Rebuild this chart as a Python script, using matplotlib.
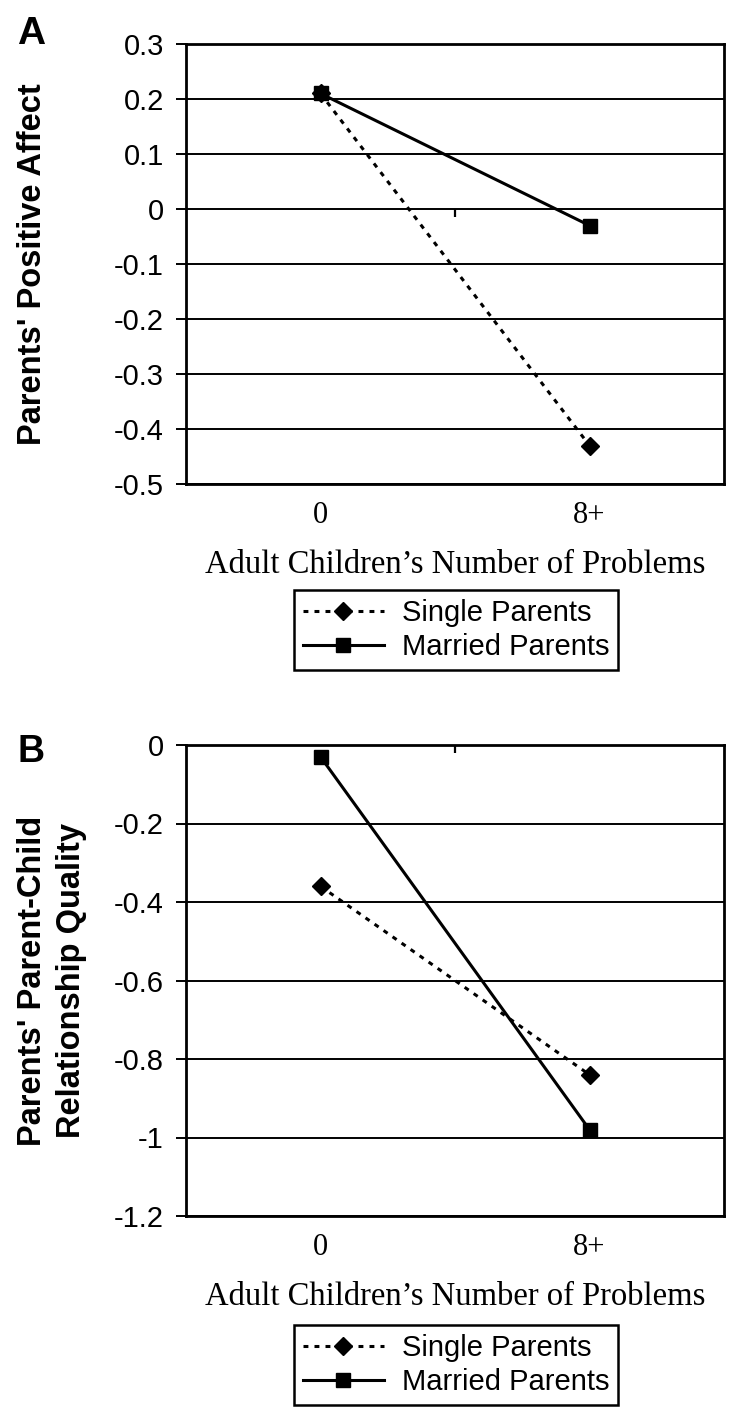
import matplotlib.pyplot as plt

plt.rcParams['axes.unicode_minus'] = False

categories = ['0', '8+']
series_names = ['Single Parents', 'Married Parents']

# panel A: parents' positive affect
affect_single = [0.21, -0.43]
affect_married = [0.21, -0.03]
affect_ticks = [0.3, 0.2, 0.1, 0, -0.1, -0.2, -0.3, -0.4, -0.5]

# panel B: parent-child relationship quality
quality_single = [-0.36, -0.84]
quality_married = [-0.03, -0.98]
quality_ticks = [0, -0.2, -0.4, -0.6, -0.8, -1, -1.2]

xlabel = 'Adult Children\u2019s Number of Problems'

W, H = 754, 1414
fig = plt.figure(figsize=(W / 100, H / 100), dpi=100)

sans = 'Liberation Sans'
serif = 'Liberation Serif'


def panel(rect, single, married, yticks, legend_y):
    ax = fig.add_axes(rect)
    x = range(len(categories))
    ax.plot(x, single, color='black', lw=2.2, linestyle=(0, (1.6, 2.0)),
            marker='D', ms=9, label=series_names[0], zorder=3)
    ax.plot(x, married, color='black', lw=2.2, linestyle='-',
            marker='s', ms=10, label=series_names[1], zorder=4)

    ax.set_xlim(-0.5, len(categories) - 0.5)
    ax.set_ylim(min(yticks), max(yticks))
    ax.set_yticks(yticks)
    ax.set_yticklabels([f'{v:g}' for v in yticks], fontfamily=sans, fontsize=21)
    ax.set_xticks(list(x))
    ax.set_xticklabels(categories, fontfamily=serif, fontsize=22)
    ax.tick_params(axis='x', length=0, pad=12)
    ax.tick_params(axis='y', direction='out', length=7, width=1.4, pad=9)
    ax.set_xlabel(xlabel, fontfamily=serif, fontsize=23.5, labelpad=14)

    ax.grid(axis='y', color='black', lw=1.4)
    ax.set_axisbelow(True)
    for s in ax.spines.values():
        s.set_linewidth(2.0)

    # category axis crosses at y = 0, with a tick between the two categories
    sec = ax.secondary_xaxis(0, transform=ax.transData)
    sec.set_xticks([0.5])
    sec.tick_params(axis='x', direction='out', length=6, width=1.6,
                    labelbottom=False, labeltop=False, bottom=True, top=False)
    sec.spines['bottom'].set_visible(False)
    sec.spines['top'].set_visible(False)

    leg = ax.legend(loc='center', bbox_to_anchor=(456 / W, 1 - legend_y / H),
                    bbox_transform=fig.transFigure, frameon=True, fancybox=False,
                    edgecolor='black', framealpha=1, borderpad=0.3,
                    labelspacing=0.2, handlelength=2.8, handletextpad=0.6,
                    prop={'family': sans, 'size': 21})
    leg.get_frame().set_linewidth(1.8)
    return ax


panel([186 / W, 1 - 484 / H, 538 / W, 440 / H],
      affect_single, affect_married, affect_ticks, 630)
panel([186 / W, 1 - 1216 / H, 538 / W, 471 / H],
      quality_single, quality_married, quality_ticks, 1365)

fig.text(31 / W, 1 - 34 / H, 'A', fontfamily=sans, fontweight='bold',
         fontsize=28, ha='center', va='center')
fig.text(31 / W, 1 - 752 / H, 'B', fontfamily=sans, fontweight='bold',
         fontsize=27, ha='center', va='center')

fig.text(33 / W, 1 - 264 / H, "Parents' Positive Affect", fontfamily=sans,
         fontweight='bold', fontsize=23.5, rotation=90, ha='center', va='center')
fig.text(52 / W, 1 - 981 / H, "Parents' Parent-Child\nRelationship Quality",
         fontfamily=sans, fontweight='bold', fontsize=23.5, rotation=90,
         ha='center', va='center', multialignment='center', linespacing=1.35)

fig.savefig('out.png', dpi=100)
